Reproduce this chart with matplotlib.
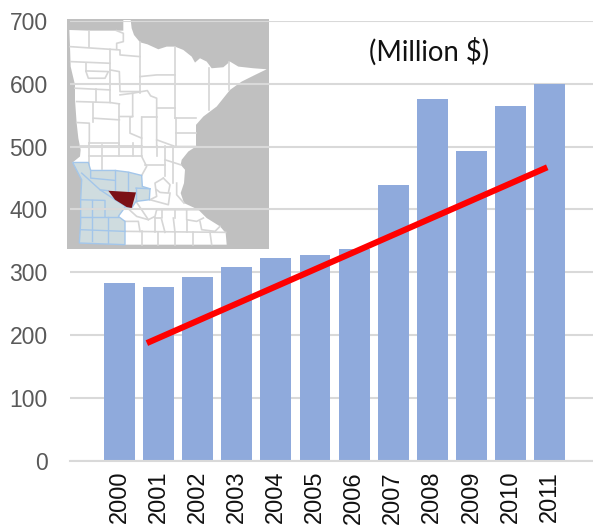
import matplotlib
matplotlib.use("Agg")
import matplotlib.pyplot as plt
from matplotlib.patches import Polygon

years = [2000, 2001, 2002, 2003, 2004, 2005, 2006, 2007, 2008, 2009, 2010, 2011]
values = [283, 276, 292, 308, 323, 327, 337, 439, 575, 493, 564, 600]
trend_years = [2000.7, 2010.94]
trend_values = [187, 467]
y_ticks = [0, 100, 200, 300, 400, 500, 600, 700]

# map shapes, traced in map pixels
state_outline = [(28, 60), (88, 62), (170, 62), (190, 62), (190, 30), (212, 30), (215, 55), (222, 75), (240, 97),
                 (262, 103), (295, 118), (320, 110), (345, 110), (370, 120), (395, 140), (405, 158), (420, 145),
                 (440, 155), (455, 175), (490, 172), (510, 155), (535, 170), (580, 175), (620, 178), (585, 195),
                 (545, 215), (510, 240), (470, 290), (430, 320), (408, 345), (408, 410), (385, 425), (365, 450),
                 (362, 465), (375, 480), (372, 520), (362, 550), (372, 580), (415, 600), (440, 625), (480, 650),
                 (497, 670), (500, 705), (195, 705), (58, 700), (62, 640), (62, 570), (65, 510), (38, 458),
                 (60, 440), (62, 420), (55, 385), (50, 340), (45, 270), (45, 225), (32, 170), (30, 110)]
region_outline = [(38, 458), (85, 458), (92, 482), (165, 482), (205, 487), (245, 497), (247, 530), (270, 537),
                  (268, 570), (228, 575), (215, 595), (197, 590), (175, 620), (195, 635), (195, 705), (58, 700),
                  (62, 640), (62, 570), (65, 510)]
county_outline = [(145, 543), (228, 548), (215, 595), (200, 592), (165, 570)]

county_lines = [
    [(88, 62), (88, 112)], [(30, 110), (150, 118), (180, 120), (180, 135), (240, 140)],
    [(150, 118), (150, 278), (178, 282)], [(32, 155), (150, 160)],
    [(170, 62), (190, 70), (190, 95), (170, 100), (170, 118)], [(240, 97), (240, 250)],
    [(78, 160), (78, 185), (85, 205), (135, 205), (145, 185), (78, 183)],
    [(150, 180), (178, 185), (180, 245), (240, 245)], [(240, 200), (290, 195), (345, 195)],
    [(345, 110), (345, 325)], [(447, 175), (447, 300)], [(508, 155), (508, 240)], [(345, 222), (508, 222)],
    [(290, 295), (345, 295)], [(345, 325), (408, 325)], [(348, 325), (348, 410)], [(348, 368), (408, 368)],
    [(45, 235), (150, 240)], [(108, 238), (108, 275)], [(50, 275), (150, 278)], [(98, 280), (98, 335)],
    [(178, 282), (178, 410)], [(100, 325), (178, 330)], [(50, 338), (88, 340), (88, 400)],
    [(88, 400), (178, 400)], [(180, 255), (218, 250), (218, 320), (178, 320)],
    [(218, 250), (262, 242), (272, 258), (290, 265), (290, 410)], [(218, 320), (210, 322), (210, 370), (245, 385)],
    [(245, 322), (290, 322)], [(245, 322), (245, 440), (260, 470), (245, 497)], [(290, 390), (345, 410), (408, 410)],
    [(60, 410), (245, 410)], [(88, 400), (88, 478)], [(125, 405), (125, 478)], [(178, 400), (178, 440)],
    [(220, 400), (220, 440)], [(88, 440), (245, 440)], [(290, 410), (290, 440)], [(315, 410), (315, 500)],
    [(340, 410), (340, 520)], [(362, 465), (315, 450)], [(255, 465), (315, 465)],
    [(310, 505), (285, 520), (290, 560), (270, 570)], [(310, 505), (330, 525), (325, 550), (300, 548), (290, 540)],
    [(350, 520), (350, 555), (372, 580)], [(330, 550), (325, 585), (270, 570)],
    [(228, 575), (265, 630), (285, 620), (290, 600), (415, 600)], [(305, 600), (305, 625), (285, 625)],
    [(345, 600), (345, 625)], [(380, 600), (380, 630), (410, 635), (430, 625)], [(197, 590), (230, 620), (265, 630)],
    [(195, 635), (235, 635), (240, 665)], [(285, 625), (285, 668)], [(305, 630), (315, 668)], [(340, 625), (345, 668)],
    [(380, 630), (380, 668)], [(420, 635), (425, 660), (465, 665), (480, 650)], [(197, 665), (497, 668)],
    [(245, 665), (245, 705)], [(295, 668), (295, 705)], [(345, 668), (345, 705)], [(398, 668), (398, 705)],
    [(450, 668), (455, 705)],
]
region_lines = [
    [(65, 490), (120, 540), (145, 543)], [(92, 482), (92, 505), (165, 512)], [(165, 482), (165, 540)],
    [(205, 487), (205, 545)], [(120, 540), (165, 570), (197, 590)], [(62, 570), (135, 572), (135, 622)],
    [(95, 572), (95, 695)], [(62, 622), (175, 622)], [(145, 622), (145, 700)], [(62, 660), (195, 665)],
    [(228, 535), (270, 537)], [(228, 535), (228, 575)],
]

W, H = 593, 525
fig = plt.figure(figsize=(W / 100, H / 100), dpi=100)

# map goes underneath so the gridlines run across it
mp = fig.add_axes([67 / W, 1 - 249 / H, 202 / W, 230 / H], zorder=1)
mp.set_xlim(21, 627)
mp.set_ylim(718, 27)
mp.set_facecolor("#c0c0c0")
mp.set_xticks([])
mp.set_yticks([])
for s in mp.spines.values():
    s.set_visible(False)
mp.add_patch(Polygon(state_outline, closed=True, fc="white", ec="none", zorder=1))
mp.add_patch(Polygon(region_outline, closed=True, fc="#cfdcdf", ec="none", zorder=2))
for line in county_lines:
    mp.plot([p[0] for p in line], [p[1] for p in line], color="#d6d6d6", lw=1.2, zorder=1.5)
mp.add_patch(Polygon(region_outline, closed=True, fc="none", ec="#a3c6ea", lw=1, zorder=3))
for line in region_lines:
    mp.plot([p[0] for p in line], [p[1] for p in line], color="#a3c6ea", lw=1, zorder=3)
mp.add_patch(Polygon(county_outline, closed=True, fc="#7b1015", ec="none", zorder=4))

ax = fig.add_axes([70 / W, 1 - 460.5 / H, 523 / W, 439.5 / H], zorder=2)
ax.patch.set_visible(False)
ax.bar(years, values, width=0.79, color="#8faadc", zorder=2)
ax.plot(trend_years, trend_values, color="#ff0000", lw=4.4, solid_capstyle="butt", zorder=3)

ax.set_xlim(1998.734, 2012.11)
ax.set_ylim(0, 700)
ax.set_yticks(y_ticks)
ax.set_xticks(years)
ax.set_xticklabels(years, rotation=90, fontsize=17, color="#111111", family="Liberation Sans")
ax.set_yticklabels(y_ticks, fontsize=16.5, color="#595959", family="Liberation Sans")
ax.tick_params(length=0)
ax.tick_params(axis="x", pad=7.5)
ax.tick_params(axis="y", pad=16)
ax.grid(axis="y", color="#d9d9d9", lw=1.5, zorder=1)
ax.set_axisbelow(True)
for name in ["top", "right", "left"]:
    ax.spines[name].set_visible(False)
ax.spines["bottom"].set_color("#d9d9d9")
ax.spines["bottom"].set_linewidth(1.5)

fig.text(429.5 / W, 1 - 52 / H, "(Million $)", fontsize=19.8, family="Lato", color="#111111", ha="center", va="center")

fig.savefig("out.png", dpi=100)
